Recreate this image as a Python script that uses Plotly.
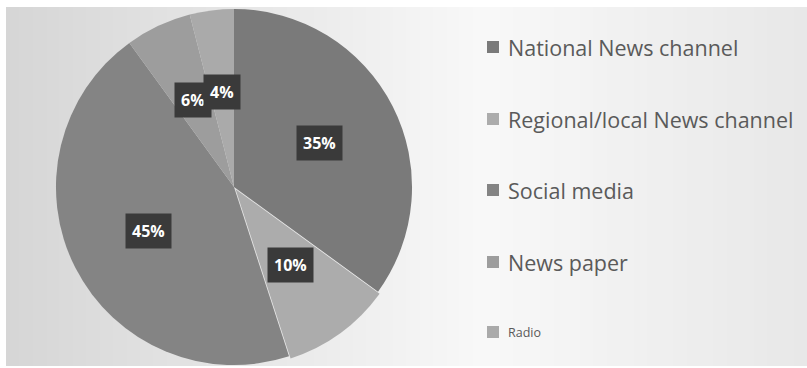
import math
import plotly.graph_objects as go

# Source shares (percent)
categories = ["National News channel", "Regional/local News channel", "Social media",
              "News paper", "Radio"]
shares = [35, 10, 45, 6, 4]
label_text = ["35%", "10%", "45%", "6%", "4%"]

slice_colors = ["#7a7a7a", "#acacac", "#848484", "#9d9d9d", "#aaaaaa"]
pulls = [0, 0.015, 0, 0, 0]

W, H = 807, 368
# pie placement in pixels (centre and outer half-size of the domain box)
pie_cx, pie_cy_top, pie_half = 234, 187, 180.7
dom_x = [(pie_cx - pie_half) / W, (pie_cx + pie_half) / W]
cy_bottom = H - pie_cy_top
dom_y = [max(0.0, (cy_bottom - pie_half) / H), (cy_bottom + pie_half) / H]

fig = go.Figure()
fig.add_trace(go.Pie(
    labels=categories, values=shares, sort=False, direction="clockwise", rotation=0,
    marker=dict(colors=slice_colors, line=dict(width=0)),
    pull=pulls, textinfo="none", hoverinfo="label+percent",
    domain=dict(x=dom_x, y=dom_y), showlegend=False,
))

shapes = []
# soft grey panel behind the chart, lighter toward the right
x0p, x1p, y0p, y1p = 6, W, 7, 366
strips = 60
for i in range(strips):
    t = i / (strips - 1)
    if t < 0.6:
        g = 214 + (248 - 214) * (t / 0.6)
    else:
        g = 248 - (248 - 232) * ((t - 0.6) / 0.4)
    g = int(round(g))
    xa = x0p + (x1p - x0p) * i / strips
    xb = x0p + (x1p - x0p) * (i + 1) / strips + 1
    shapes.append(dict(type="rect", xref="paper", yref="paper", layer="below",
                       x0=xa / W, x1=min(xb, W) / W, y0=1 - y1p / H, y1=1 - y0p / H,
                       fillcolor=f"rgb({g},{g},{g})", line=dict(width=0)))

# data labels: dark boxes at mid-angle of each slice
cx = (dom_x[0] + dom_x[1]) / 2 * W
cy = (1 - (dom_y[0] + dom_y[1]) / 2) * H
half = min((dom_x[1] - dom_x[0]) * W, (dom_y[1] - dom_y[0]) * H) / 2
radius = half / (1 + max(pulls))
total = sum(shares)
annotations = []
cum = 0
for v, txt in zip(shares, label_text):
    mid = (cum + v / 2) / total * 2 * math.pi
    cum += v
    rl = radius * 0.54
    px = cx + rl * math.sin(mid)
    py = cy - rl * math.cos(mid)
    annotations.append(dict(x=px / W, y=1 - py / H, xref="paper", yref="paper",
                            xanchor="center", yanchor="middle",
                            text=f"<b>{txt}</b>", showarrow=False,
                            font=dict(family="Open Sans, sans-serif", size=16, color="white"),
                            bgcolor="#3a3a3a", borderpad=6))

# legend drawn as squares plus labels
legend_rows = [47, 119, 190, 262, 332]
legend_sizes = [21.5, 21.5, 21.5, 21.5, 12.5]
for name, col, yy, fs in zip(categories, slice_colors, legend_rows, legend_sizes):
    shapes.append(dict(type="rect", xref="paper", yref="paper",
                       x0=487 / W, x1=499 / W, y0=1 - (yy + 6) / H, y1=1 - (yy - 6) / H,
                       fillcolor=col, line=dict(width=0)))
    annotations.append(dict(x=506 / W, y=1 - yy / H, xref="paper", yref="paper",
                            xanchor="left", yanchor="middle", text=name, showarrow=False,
                            font=dict(family="Open Sans, sans-serif", size=fs, color="#5a5a5a")))

fig.update_layout(width=W, height=H, margin=dict(l=0, r=0, t=0, b=0),
                  paper_bgcolor="white", plot_bgcolor="white",
                  shapes=shapes, annotations=annotations)
fig.write_html("out.html")
